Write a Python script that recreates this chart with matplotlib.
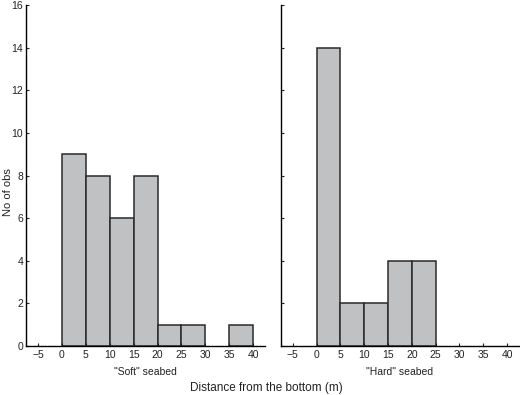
import matplotlib
matplotlib.use("Agg")
import matplotlib.pyplot as plt

plt.rcParams['font.family'] = ['Liberation Sans', 'DejaVu Sans']

bin_edges = [0, 5, 10, 15, 20, 25, 30, 35, 40]
soft_counts = [9, 8, 6, 8, 1, 1, 0, 1]
hard_counts = [14, 2, 2, 4, 4, 0, 0, 0]
x_ticks = [-5, 0, 5, 10, 15, 20, 25, 30, 35, 40]
y_ticks = [0, 2, 4, 6, 8, 10, 12, 14, 16]
panel_labels = ['"Soft" seabed', '"Hard" seabed']
ylabel = "No of obs"
xlabel = "Distance from the bottom (m)"

fig = plt.figure(figsize=(5.2, 3.95), dpi=100)
ax1 = fig.add_axes([0.050, 0.124, 0.460, 0.863])
ax2 = fig.add_axes([0.540, 0.124, 0.458, 0.863])

face = "#c0c1c3"
edge = "#2a2a2a"
for ax, counts, lab in [(ax1, soft_counts, panel_labels[0]), (ax2, hard_counts, panel_labels[1])]:
    lefts = bin_edges[:-1]
    widths = [b - a for a, b in zip(bin_edges[:-1], bin_edges[1:])]
    for l, w, c in zip(lefts, widths, counts):
        if c > 0:
            ax.bar(l, c, width=w, align='edge', color=face, edgecolor=edge, linewidth=1.1)
    ax.set_xlim(-7.5, 42.5)
    ax.set_ylim(0, 16)
    ax.set_xticks(x_ticks)
    ax.set_xticklabels(["\u2212" + str(-t) if t < 0 else str(t) for t in x_ticks])
    ax.set_yticks(y_ticks)
    ax.spines['top'].set_visible(False)
    ax.spines['right'].set_visible(False)
    ax.spines['left'].set_linewidth(1.0)
    ax.spines['bottom'].set_linewidth(1.0)
    ax.tick_params(direction='in', length=2, width=0.8, labelsize=7.5, colors='#222222', pad=3)
    ax.tick_params(axis='y', pad=2)
    ax.set_xlabel(lab, fontsize=7.5, color='#222222', labelpad=5)

ax2.tick_params(labelleft=False)
fig.text(8 / 520, 1 - 192 / 395, ylabel, rotation=90, ha='center', va='center',
         fontsize=8, color='#222222')
fig.text(0.513, 0.018, xlabel, ha='center', va='center', fontsize=8.5, color='#222222')

fig.savefig("out.png", dpi=100)
